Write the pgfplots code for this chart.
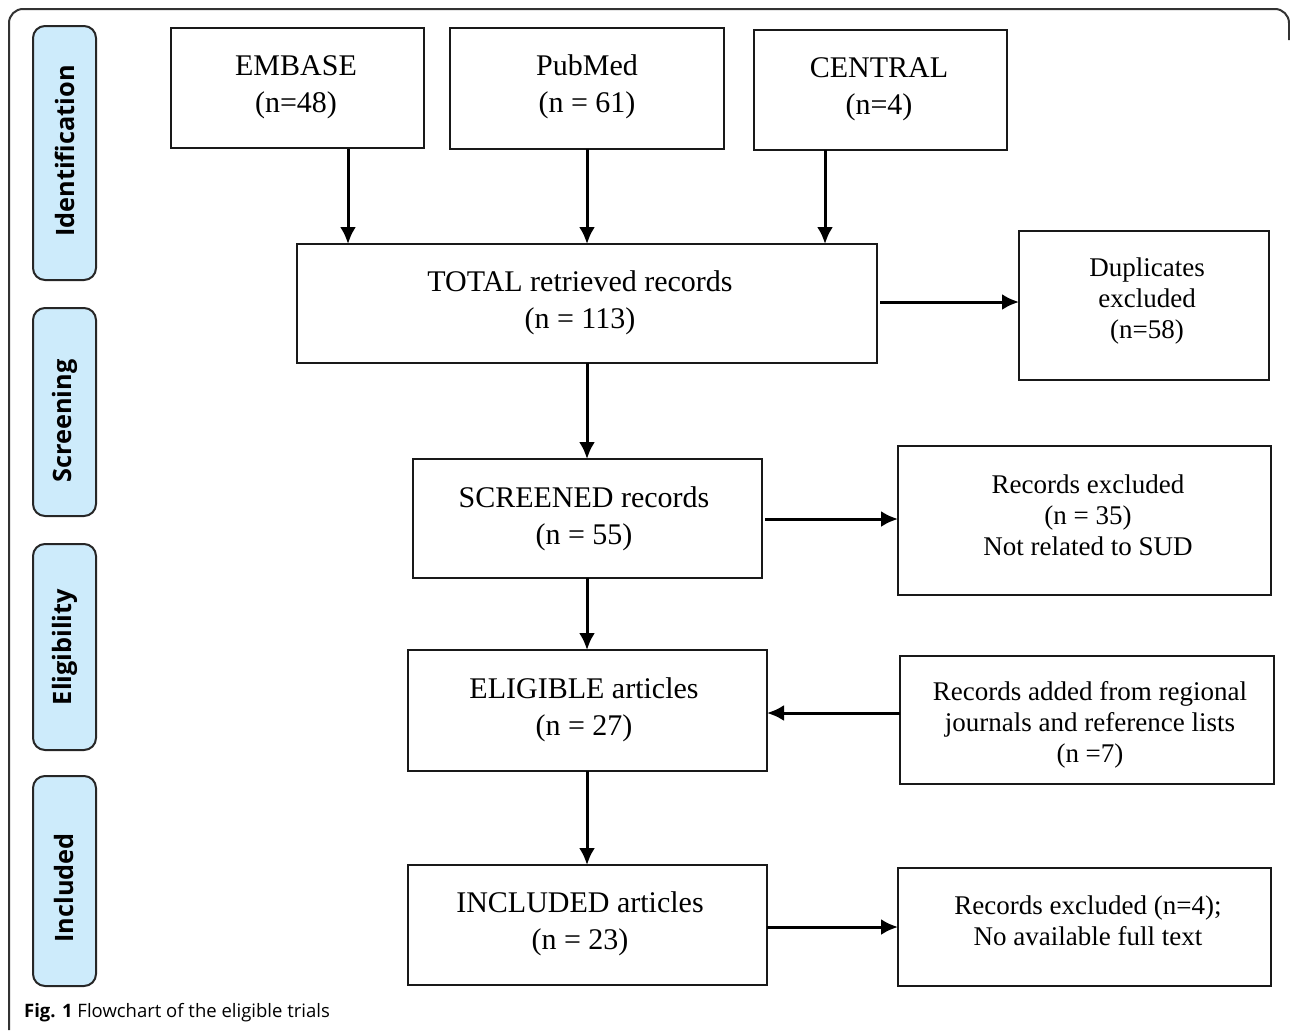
\documentclass[border=0pt]{standalone}
\usepackage{pgfplots}
\pgfplotsset{compat=1.18}
\usepackage{fontspec}
\setmainfont{Liberation Serif}
\newfontfamily\osans{Open Sans}
\usetikzlibrary{arrows.meta}
\definecolor{stagefill}{HTML}{CDEBFB}
\definecolor{framecol}{HTML}{333333}
\begin{document}
\begin{tikzpicture}
\begin{axis}[width=1290pt,height=1027pt,scale only axis,
  xmin=0,xmax=1290,ymin=0,ymax=1027,y dir=reverse,
  axis lines=none,clip=false]
\path (0,0) rectangle (1290,1027);
% outer frame
\draw[line width=2pt,framecol,rounded corners=14pt] (9,1030) -- (9,9) -- (1289,9) -- (1289,40);
% stage labels
\tikzset{stage/.style={draw=black!85,line width=2pt,fill=stagefill,rounded corners=12pt},
  stxt/.style={rotate=90,font=\osans\bfseries\fontsize{25.3}{30}\selectfont},
  box/.style={draw=black!90,line width=2pt},
  btxt/.style={align=center,font=\fontsize{30}{37}\selectfont,inner sep=0pt},
  arr/.style={line width=3pt,-{Latex[length=17pt,width=16pt]}}}
\draw[stage] (33,26) rectangle (96,280);
\node[stxt] at (64.5,151) {Identification};
\draw[stage] (33,308) rectangle (96,516);
\node[stxt] at (64.5,421) {Screening};
\draw[stage] (33,544) rectangle (96,750);
\node[stxt] at (64.5,647) {Eligibility};
\draw[stage] (33,776) rectangle (96,986);
\node[stxt] at (64.5,888) {Included};
% top boxes
\draw[box] (171,28) rectangle (424,148);
\node[btxt] at (296,87) {EMBASE\\(n=48)};
\draw[box] (450,28) rectangle (724,149);
\node[btxt] at (587,87) {PubMed\\(n = 61)};
\draw[box] (754,30) rectangle (1007,150);
\node[btxt] at (879,89) {CENTRAL\\(n=4)};
\draw[arr] (348,149) -- (348,244);
\draw[arr] (587,149) -- (587,244);
\draw[arr] (825,150) -- (825,244);
% total
\draw[box] (297,244) rectangle (877,363);
\node[btxt] at (580,303) {TOTAL retrieved records\\(n = 113)};
\draw[box] (1019,231) rectangle (1269,380);
\node[btxt,font=\fontsize{27}{31}\selectfont] at (1147,301) {Duplicates\\excluded\\(n=58)};
\draw[arr] (880,302) -- (1019,302);
\draw[arr] (587,363) -- (587,459);
% screened
\draw[box] (413,459) rectangle (762,578);
\node[btxt] at (584,519) {SCREENED records\\(n = 55)};
\draw[box] (898,446) rectangle (1271,595);
\node[btxt,font=\fontsize{27}{31}\selectfont] at (1088,515) {Records excluded\\(n = 35)\\Not related to SUD};
\draw[arr] (765,519) -- (898,519);
\draw[arr] (587,578) -- (587,650);
% eligible
\draw[box] (408,650) rectangle (767,771);
\node[btxt] at (584,710) {ELIGIBLE articles\\(n = 27)};
\draw[box] (900,656) rectangle (1274,784);
\node[btxt,font=\fontsize{27}{31}\selectfont] at (1090,725) {Records added from regional\\journals and reference lists\\(n =7)};
\draw[arr] (900,713) -- (767,713);
\draw[arr] (587,771) -- (587,865);
% included
\draw[box] (408,865) rectangle (767,985);
\node[btxt] at (580,924) {INCLUDED articles\\(n = 23)};
\draw[box] (898,868) rectangle (1271,986);
\node[btxt,font=\fontsize{27}{31}\selectfont] at (1088,921) {Records excluded (n=4);\\No available full text};
\draw[arr] (767,927) -- (898,927);
% caption
\node[anchor=west,inner sep=0pt,font=\osans\fontsize{18.5}{22}\selectfont] at (24,1013) {\textbf{Fig. 1} Flowchart of the eligible trials};
\end{axis}
\end{tikzpicture}
\end{document}
